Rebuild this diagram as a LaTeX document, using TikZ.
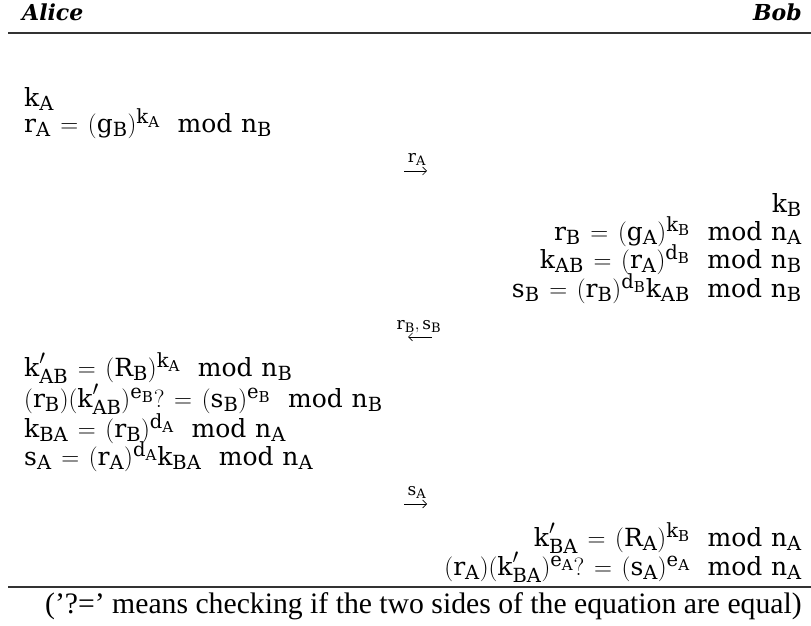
\documentclass[tikz,border=0pt]{standalone}
\usepackage{amsmath}
\usepackage{fontspec}
\usetikzlibrary{arrows.meta}
\setmainfont{DejaVu Serif}
\setmathrm{DejaVu Serif}
\newfontfamily\notefont{Liberation Serif}
\DeclareMathSizes{25}{25}{19.5}{15}
\DeclareMathSizes{17}{17}{13}{10}
\newcommand{\md}{\hspace{0.7em}\mathrm{mod}\hspace{0.35em}}
\begin{document}
\thickmuskip=7mu plus 2mu
\begin{tikzpicture}[x=1pt,y=1pt,
  eq/.style={font=\fontsize{25}{28}\selectfont, inner sep=0pt},
  eql/.style={eq, anchor=base west},
  eqr/.style={eq, anchor=base east},
  who/.style={font=\fontsize{22}{26}\selectfont\bfseries\itshape, inner sep=0pt},
  lbl/.style={font=\fontsize{17}{20}\selectfont, inner sep=0pt, anchor=base},
  arr/.style={-{Straight Barb[length=4pt,width=8pt]}, line width=0.7pt},
  rulel/.style={line width=1.1pt, draw=black!80}]
\useasboundingbox (0,0) rectangle (811,626);
\node[who, anchor=base west] (alice) at (22,605) {Alice};
\node[who, anchor=base east] (bob) at (802,605) {Bob};
\coordinate (t1) at (8,593);
\coordinate (t2) at (811,593);
\draw[rulel] (t1) -- (t2);
\node[eql] (a1) at (24,519) {$\mathrm{k_A}$};
\node[eql] (a2) at (24,493) {$\mathrm{r_A = (g_B)^{k_A}}\md\mathrm{n_B}$};
% message 1
\node[lbl] (l1) at (417,463) {$\mathrm{r_A}$};
\coordinate (p1) at (404,455);
\coordinate (q1) at (427,455);
\draw[arr] (p1) -- (q1);
\node[eqr] (b1) at (802,413) {$\mathrm{k_B}$};
\node[eqr] (b2) at (802,385) {$\mathrm{r_B = (g_A)^{k_B}}\md\mathrm{n_A}$};
\node[eqr] (b3) at (802,357) {$\mathrm{k_{AB} = (r_A)^{d_B}}\md\mathrm{n_B}$};
\node[eqr] (b4) at (802,328) {$\mathrm{s_B = (r_B)^{d_B}k_{AB}}\md\mathrm{n_B}$};
% message 2
\node[lbl] (l2) at (419,296) {$\mathrm{r_B,s_B}$};
\coordinate (p2) at (432,289);
\coordinate (q2) at (408,289);
\draw[arr] (p2) -- (q2);
\node[eql] (a3) at (24,249) {$\mathrm{k'_{AB} = (R_B)^{k_A}}\md\mathrm{n_B}$};
\node[eql] (a4) at (24,218) {$\mathrm{(r_B)(k'_{AB})^{e_B}?= (s_B)^{e_B}}\md\mathrm{n_B}$};
\node[eql] (a5) at (24,188) {$\mathrm{k_{BA} = (r_B)^{d_A}}\md\mathrm{n_A}$};
\node[eql] (a6) at (24,160) {$\mathrm{s_A = (r_A)^{d_A}k_{BA}}\md\mathrm{n_A}$};
% message 3
\node[lbl] (l3) at (417,130) {$\mathrm{s_A}$};
\coordinate (p3) at (404,122);
\coordinate (q3) at (427,122);
\draw[arr] (p3) -- (q3);
\node[eqr] (b5) at (802,79) {$\mathrm{k'_{BA} = (R_A)^{k_B}}\md\mathrm{n_A}$};
\node[eqr] (b6) at (802,50) {$\mathrm{(r_A)(k'_{BA})^{e_A}?= (s_A)^{e_A}}\md\mathrm{n_A}$};
\coordinate (u1) at (8,39);
\coordinate (u2) at (811,39);
\draw[rulel] (u1) -- (u2);
\node[font=\fontsize{29.7}{33}\selectfont\notefont, inner sep=0pt, anchor=base west] (note) at (45,12) {(’?=’ means checking if the two sides of the equation are equal)};
\end{tikzpicture}
\end{document}
